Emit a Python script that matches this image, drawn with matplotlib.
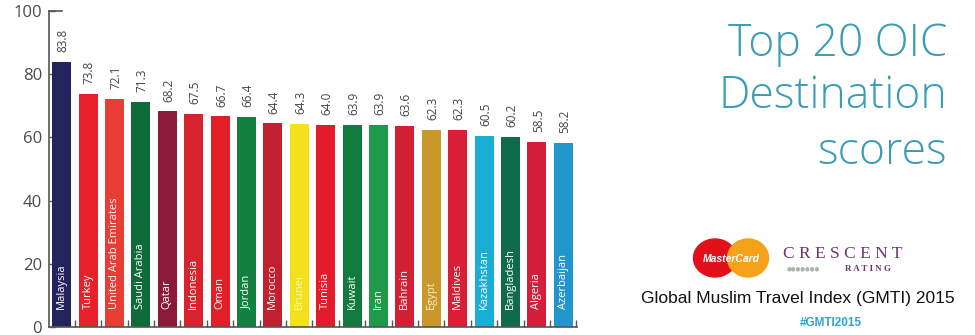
import matplotlib
matplotlib.use("Agg")
import matplotlib.pyplot as plt
from matplotlib.patches import Ellipse
import numpy as np

countries = ["Malaysia", "Turkey", "United Arab Emirates", "Saudi Arabia", "Qatar",
             "Indonesia", "Oman", "Jordan", "Morocco", "Brunei", "Tunisia", "Kuwait",
             "Iran", "Bahrain", "Egypt", "Maldives", "Kazakhstan", "Bangladesh",
             "Algeria", "Azerbaijan"]
scores = [83.8, 73.8, 72.1, 71.3, 68.2, 67.5, 66.7, 66.4, 64.4, 64.3, 64.0, 63.9,
          63.9, 63.6, 62.3, 62.3, 60.5, 60.2, 58.5, 58.2]
yticks = [0, 20, 40, 60, 80, 100]

bar_colors = ["#25235e", "#e8202a", "#e83d35", "#0e6b3a", "#8b1a37", "#d8232f",
              "#e21f26", "#138040", "#c1202e", "#f2e11b", "#e51b2b", "#127a3c",
              "#1f9a48", "#d21f33", "#c9982a", "#d81f36", "#1aaed4", "#106b4a",
              "#d41f3a", "#2196cc"]
label_colors = ["white"] * len(countries)
label_colors[9] = "#fbf6c8"
label_colors[14] = "#f6ead0"

W, H = 975, 335
fig = plt.figure(figsize=(W / 100, H / 100), dpi=100)
fig.patch.set_facecolor("white")

ax = fig.add_axes([49 / W, 1 - 327 / H, 528 / W, 316 / H])
x = np.arange(len(countries))
ax.bar(x, scores, width=0.72, color=bar_colors, zorder=2)
ax.set_xlim(-0.48, len(countries) - 0.48)
ax.set_ylim(0, 100)

for xi, s, name, lc in zip(x, scores, countries, label_colors):
    ax.annotate(f"{s:.1f}", (xi, s), xytext=(1, 7), textcoords="offset points",
                rotation=90, ha="center", va="bottom", fontsize=8.5,
                family="Open Sans", color="#444444")
    ax.text(xi, 5.6, name, rotation=90, ha="center", va="bottom", fontsize=8,
            family="Open Sans", color=lc, zorder=3)

ax.set_yticks(yticks)
ax.set_yticklabels([str(t) for t in yticks], fontsize=12, family="Open Sans",
                   color="#4a4a4a")
ax.tick_params(axis="y", direction="in", length=4, width=1, color="#555555", pad=5)
ax.set_xticks([])
ax.set_xticks(x + 0.5, minor=True)
ax.tick_params(axis="x", which="minor", direction="in", length=5, width=1,
               color="#555555")
ax.axhline(100, xmin=0, xmax=0.025, color="#555555", lw=1.2, clip_on=False)
for sp in ["top", "right"]:
    ax.spines[sp].set_visible(False)
for sp in ["left", "bottom"]:
    ax.spines[sp].set_color("#555555")
    ax.spines[sp].set_linewidth(1.2)
ax.set_facecolor("white")

# overlay in pixel coordinates for the right-hand decoration
ov = fig.add_axes([0, 0, 1, 1], zorder=-1)
ov.set_xlim(0, W)
ov.set_ylim(H, 0)
ov.axis("off")

teal = "#3b9db5"
for txt, yb in [("Top 20 OIC", 56), ("Destination", 108), ("scores", 164)]:
    ov.text(947, yb, txt, ha="right", va="baseline", fontsize=32,
            family="Open Sans", fontweight="light", color=teal)

ov.add_patch(Ellipse((715, 258), 43, 38, color="#e3101b"))
ov.add_patch(Ellipse((748, 258), 41, 38, color="#f5a21a"))
ov.text(731, 259, "MasterCard", ha="center", va="center", fontsize=7.5,
        fontstyle="italic", fontweight="bold", family="Liberation Sans", color="white")
ov.text(843, 254, "C R E S C E N T", ha="center", va="center", fontsize=12.5,
        family="Liberation Serif", color="#6e3575")
ov.text(803, 269, "●●●●●●●", ha="center", va="center", fontsize=4,
        family="DejaVu Sans", color="#b0b0b0")
ov.text(868, 269, "R A T I N G", ha="center", va="center", fontsize=6.5,
        fontweight="bold", family="Liberation Serif", color="#6e3575")

ov.text(798, 303, "Global Muslim Travel Index (GMTI) 2015", ha="center",
        va="baseline", fontsize=12.5, family="Liberation Sans", color="#111111")
ov.text(831, 326, "#GMTI2015", ha="center", va="baseline", fontsize=8.5,
        fontweight="bold", family="Liberation Sans", color="#2fa3cf")

fig.savefig("out.png", dpi=100, facecolor="white")
